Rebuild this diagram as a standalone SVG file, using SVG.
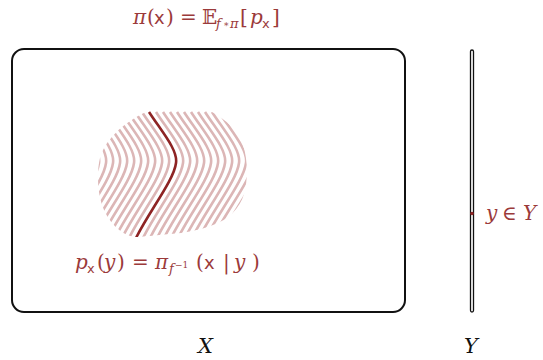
<svg xmlns="http://www.w3.org/2000/svg" width="543" height="360" viewBox="0 0 543 360">
<style>
.m{font-family:"DejaVu Serif","Liberation Serif",serif;font-size:20px;fill:#9b3a3a}
.i{font-style:italic}
.sf{font-family:"DejaVu Sans","Liberation Sans",sans-serif;font-size:18px}
.sub{font-size:13px}
.k{font-family:"DejaVu Serif","Liberation Serif",serif;font-size:21px;font-style:italic;fill:#111}
.hatch{fill:none;stroke:#dcb6b6;stroke-width:2.6}
</style>
<defs>
<clipPath id="blobclip">
<path d="M146,112 C155,105 165,103 174,103 C188,103 200,105 212,112 C226,120 238,130 243,145 C248,160 248,180 244,194 C240,208 228,220 213,225 C200,230 185,233 170,234 C155,235 143,237 134,237 C120,234 108,222 102,205 C97,190 97,170 100,158 C104,143 120,124 146,112 Z"/>
</clipPath>
<path id="c" d="M149,112 C162,132 178,150 176,163 C174,180 150,210 136,238"/>
</defs>
<g id="spaceX"><rect x="12" y="49" width="393" height="263" rx="12" fill="none" stroke="#111" stroke-width="2"/></g>
<g id="spaceY"><rect x="470.5" y="50" width="3" height="262" rx="1.5" fill="#fff" stroke="#111" stroke-width="1.3"/></g>
<g id="fiber" clip-path="url(#blobclip)">
<use href="#c" class="hatch" transform="translate(-84,0)"/>
<use href="#c" class="hatch" transform="translate(-77,0)"/>
<use href="#c" class="hatch" transform="translate(-70,0)"/>
<use href="#c" class="hatch" transform="translate(-63,0)"/>
<use href="#c" class="hatch" transform="translate(-56,0)"/>
<use href="#c" class="hatch" transform="translate(-49,0)"/>
<use href="#c" class="hatch" transform="translate(-42,0)"/>
<use href="#c" class="hatch" transform="translate(-35,0)"/>
<use href="#c" class="hatch" transform="translate(-28,0)"/>
<use href="#c" class="hatch" transform="translate(-21,0)"/>
<use href="#c" class="hatch" transform="translate(-14,0)"/>
<use href="#c" class="hatch" transform="translate(-7,0)"/>
<use href="#c" class="hatch" transform="translate(7,0)"/>
<use href="#c" class="hatch" transform="translate(14,0)"/>
<use href="#c" class="hatch" transform="translate(21,0)"/>
<use href="#c" class="hatch" transform="translate(28,0)"/>
<use href="#c" class="hatch" transform="translate(35,0)"/>
<use href="#c" class="hatch" transform="translate(42,0)"/>
<use href="#c" class="hatch" transform="translate(49,0)"/>
<use href="#c" class="hatch" transform="translate(56,0)"/>
<use href="#c" class="hatch" transform="translate(63,0)"/>
<use href="#c" class="hatch" transform="translate(70,0)"/>
<use href="#c" class="hatch" transform="translate(77,0)"/>
<use href="#c" class="hatch" transform="translate(84,0)"/>
<use href="#c" class="hatch" transform="translate(91,0)"/>
<use href="#c" class="hatch" transform="translate(98,0)"/>
<use href="#c" class="hatch" transform="translate(105,0)"/>
<use href="#c" fill="none" stroke="#8e2424" stroke-width="2.6"/>
</g>
<g id="point"><circle cx="472" cy="213.5" r="1.8" fill="#8e2424"/></g>
<g id="labels">
<text class="m" y="24"><tspan class="i" x="133">π</tspan><tspan x="147">(</tspan><tspan class="sf" x="154">x</tspan><tspan x="166">)</tspan><tspan x="180">=</tspan><tspan x="202">𝔼</tspan><tspan class="i sub" x="216" dy="4">f</tspan><tspan font-size="9" x="223" dy="-1">∗</tspan><tspan class="i sub" x="230" dy="1">π</tspan><tspan x="240" dy="-4">[</tspan><tspan class="i" x="250">p</tspan><tspan class="sf sub" x="262" dy="4">x</tspan><tspan x="272" dy="-4">]</tspan></text>
<text class="m" y="269"><tspan class="i" x="75">p</tspan><tspan class="sf sub" x="87" dy="4">x</tspan><tspan x="97" dy="-4">(</tspan><tspan class="i" x="104">y</tspan><tspan x="117">)</tspan><tspan x="132">=</tspan><tspan class="i" x="155">π</tspan><tspan class="i sub" x="169" dy="4">f</tspan><tspan font-size="9" x="175" dy="-5">−1</tspan><tspan x="196" dy="1">(</tspan><tspan class="sf" x="204">x</tspan><tspan x="223">|</tspan><tspan class="i" x="234">y</tspan><tspan x="252">)</tspan></text>
<text class="m" y="220"><tspan class="i" x="486">y</tspan><tspan x="502">∈</tspan><tspan class="i" x="523">Y</tspan></text>
<text class="k" x="198" y="353">X</text>
<text class="k" x="464" y="353">Y</text>
</g>
</svg>
